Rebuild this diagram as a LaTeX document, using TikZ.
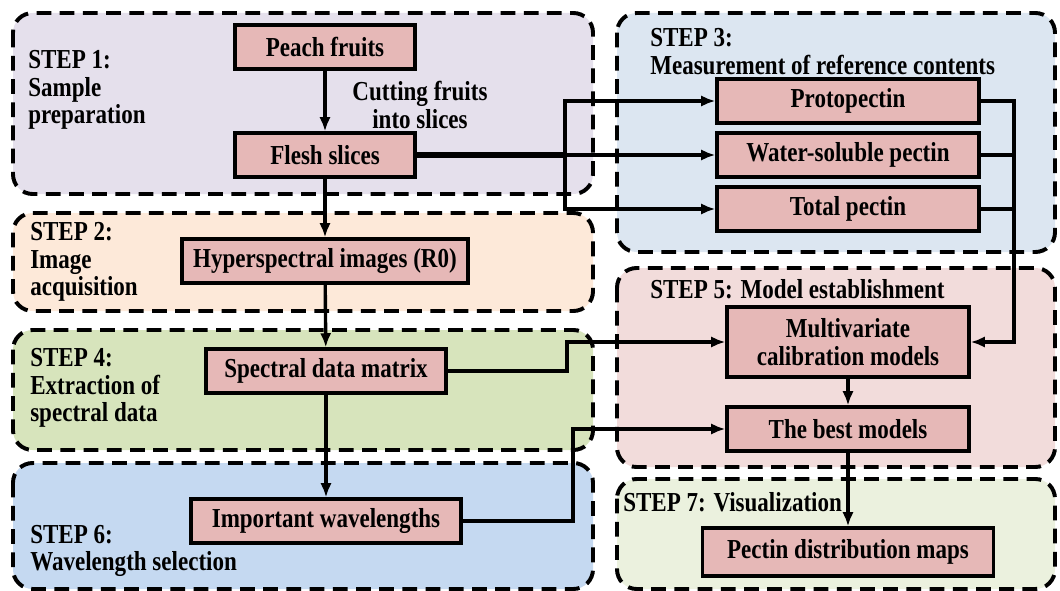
\documentclass[tikz,border=0pt]{standalone}
\usepackage{fontspec}
\setmainfont{Liberation Serif}[FakeStretch=0.84]
\usetikzlibrary{arrows.meta}
\definecolor{fillone}{HTML}{E5E0EC}
\definecolor{filltwo}{HTML}{FDE9D9}
\definecolor{fillthree}{HTML}{DCE6F1}
\definecolor{fillfour}{HTML}{D7E4BC}
\definecolor{fillfive}{HTML}{F2DCDB}
\definecolor{fillsix}{HTML}{C5D9F1}
\definecolor{fillseven}{HTML}{EBF1DE}
\definecolor{boxred}{HTML}{E6B8B7}
\begin{document}
\begin{tikzpicture}[x=0.025cm, y=-0.025cm, >={Latex[length=10pt,width=8pt]},
		every node/.style={font=\bfseries\fontsize{19.5}{19.5}\selectfont},
		panel/.style={line width=2.8pt, dash pattern=on 10.5pt off 6pt, rounded corners=14pt},
		box/.style={draw, line width=2.4pt, fill=boxred, minimum height=1.1cm, align=center, inner sep=2pt},
		flow/.style={draw, line width=2.4pt},
		lbl/.style={anchor=west, align=left, inner sep=0pt}]
				\useasboundingbox (0,0) rectangle (1060,591);
				
				% 1. dashed step panels
				\draw[panel, fill=fillone] (13,13) rectangle (593,194);
				\draw[panel, fill=fillthree] (617,13) rectangle (1055,252);
				\draw[panel, fill=filltwo] (13,213) rectangle (593,311);
				\draw[panel, fill=fillfour] (13,330) rectangle (593,450);
				\draw[panel, fill=fillsix] (13,463) rectangle (593,589);
				\draw[panel, fill=fillfive] (617,268) rectangle (1055,467);
				\draw[panel, fill=fillseven] (617,479) rectangle (1055,589);
				
				% panel titles
				\node[lbl] (t1) at (28,90) {STEP 1:\\Sample\\preparation};
				\node[lbl] (t2) at (30,262) {STEP 2:\\Image\\acquisition};
				\node[lbl] (t3) at (650,51.5) {STEP 3:\\Measurement of reference contents};
				\node[lbl] (t4) at (30,388) {STEP 4:\\Extraction of\\spectral data};
				\node[lbl] (t5) at (650,289.5) {STEP 5: Model establishment};
				\node[lbl] (t6) at (30,551) {STEP 6:\\Wavelength selection};
				\node[lbl] (t7) at (623,502) {STEP 7: Visualization};
				\node[align=center, inner sep=0pt] (cut) at (420,105) {Cutting fruits\\into slices};
				
				% 2. process boxes, left column
				\node[box, minimum width=4.5cm] (peach) at (325,47) {Peach fruits};
				\node[box, minimum width=4.5cm] (flesh) at (325,155) {Flesh slices};
				\node[box, minimum width=7.15cm] (hyper) at (325,261) {Hyperspectral images (R0)};
				\node[box, minimum width=6cm] (spec) at (326,371) {Spectral data matrix};
				\node[box, minimum width=6.75cm] (wave) at (326,521) {Important wavelengths};
				
				% right column
				\node[box, minimum width=6.55cm] (proto) at (848,101) {Protopectin};
				\node[box, minimum width=6.55cm] (water) at (848,155) {Water-soluble pectin};
				\node[box, minimum width=6.55cm] (total) at (848,209) {Total pectin};
				\node[box, minimum width=6.05cm, minimum height=1.75cm] (multi) at (848,342) {Multivariate\\calibration models};
				\node[box, minimum width=6.05cm] (best) at (848,429) {The best models};
				\node[box, minimum width=7.275cm, minimum height=1.2cm] (maps) at (848,552) {Pectin distribution maps};
				
				% 3. connectors
				\coordinate (brL) at (565,0);
				\coordinate (brR) at (1014,0);
				\coordinate (jogA) at (567,0);
				\coordinate (jogB) at (573,0);
				
				\draw[flow,->] (peach) -- (flesh);
				\draw[flow,->] (flesh) -- (hyper);
				\draw[flow,->] (hyper) -- (spec);
				\draw[flow,->] (spec) -- (wave);
				
				\draw[flow, line width=3.6pt] (flesh.east) -- (flesh.east -| brL);
				\draw[flow,->] (flesh.east) -- (water.west);
				\draw[flow,->] (flesh.east -| brL) |- (proto.west);
				\draw[flow,->] (flesh.east -| brL) |- (total.west);
				
				\draw[flow,->] (proto.east) -| (brR |- multi.east) -- (multi.east);
				\draw[flow] (water.east) -- (water.east -| brR);
				\draw[flow] (total.east) -- (total.east -| brR);
				
				\draw[flow,->] (spec.east) -- (spec.east -| jogA) |- (multi.west);
				\draw[flow,->] (wave.east) -- (wave.east -| jogB) |- (best.west);
				
				\draw[flow,->] (multi) -- (best);
				\draw[flow,->] (best) -- (maps);
			\end{tikzpicture}
\end{document}
